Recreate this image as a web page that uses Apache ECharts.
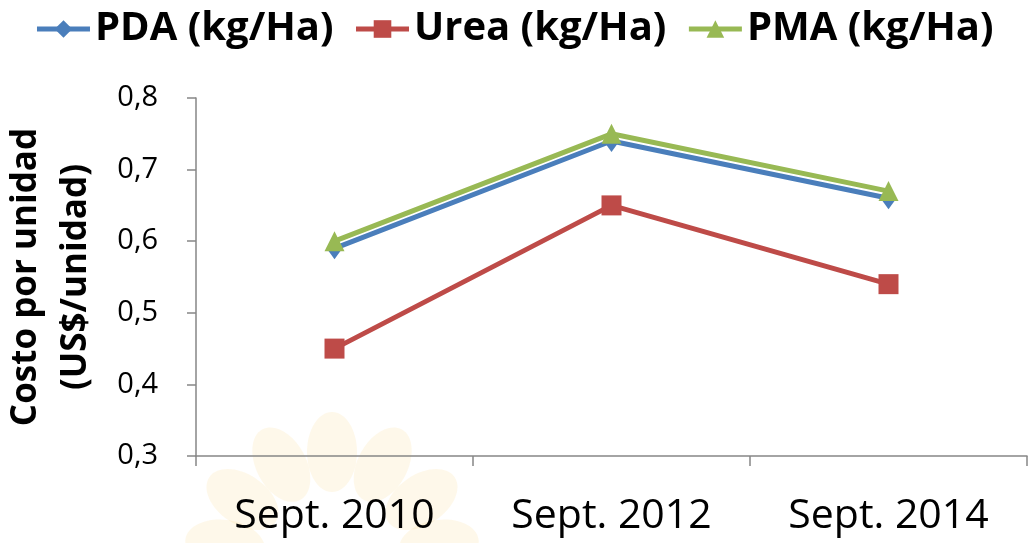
<!DOCTYPE html>
<html>
<head>
<meta charset="utf-8">
<script src="https://cdn.jsdelivr.net/npm/echarts@6/dist/echarts.min.js"></script>
<style>html,body{margin:0;padding:0;background:#fff}#c{width:1028px;height:543px}</style>
</head>
<body>
<div id="c"></div>
<script>
const categories = ['Sept. 2010', 'Sept. 2012', 'Sept. 2014'];
const pda = [0.59, 0.74, 0.66];
const urea = [0.45, 0.65, 0.54];
const pma = [0.60, 0.75, 0.67];
const seriesNames = ['PDA (kg/Ha)', 'Urea (kg/Ha)', 'PMA (kg/Ha)'];
const yTitle = 'Costo por unidad\n(US$/unidad)';

const chart = echarts.init(document.getElementById('c'));
const FONT = '"Open Sans"';
const petals = [];
const petalAngles = [-90, -62, -118, -34, -146, -8, -172];
petalAngles.forEach(a => {
  const r = 108, cx = 332, cy = 560;
  const rad = a * Math.PI / 180;
  petals.push({
    type: 'ellipse',
    x: cx + r * Math.cos(rad), y: cy + r * Math.sin(rad),
    rotation: -(a + 90) * Math.PI / 180,
    shape: { cx: 0, cy: 0, rx: 25, ry: 40 },
    style: { fill: 'rgba(250,215,140,0.18)' },
    z: -10, silent: true
  });
});

chart.setOption({
  animation: false,
  backgroundColor: '#fff',
  graphic: petals,
  legend: {
    top: 4, left: 'center',
    itemWidth: 53, itemHeight: 22, itemGap: 20,
    lineStyle: { width: 5 },
    textStyle: { fontFamily: FONT, fontWeight: 'bold', fontSize: 40, color: '#000' },
    data: seriesNames
  },
  grid: { left: 196, right: 1, top: 98, bottom: 87, outerBoundsMode: 'none' },
  xAxis: {
    type: 'category', data: categories, boundaryGap: true,
    axisLine: { lineStyle: { color: '#868686', width: 1.5 } },
    axisTick: { show: true, length: 10, lineStyle: { color: '#868686', width: 1.5 } },
    axisLabel: { fontFamily: FONT, fontSize: 41, color: '#000', margin: 40 }
  },
  yAxis: {
    type: 'value', min: 0.3, max: 0.8, interval: 0.1,
    name: yTitle, nameLocation: 'middle', nameRotate: 90, nameGap: 95,
    nameTextStyle: { fontFamily: FONT, fontWeight: 'bold', fontSize: 35, color: '#000', lineHeight: 50 },
    splitLine: { show: false },
    axisLine: { show: true, lineStyle: { color: '#868686', width: 1.5 } },
    axisTick: { show: true, length: 9, lineStyle: { color: '#868686', width: 1.5 } },
    axisLabel: { fontFamily: FONT, fontSize: 29, color: '#000', margin: 38,
      formatter: v => v.toFixed(1).replace('.', ',') }
  },
  series: [
    { name: seriesNames[0], type: 'line', data: pda, symbol: 'diamond', symbolSize: [16, 22],
      lineStyle: { color: '#4A7EBB', width: 5 }, itemStyle: { color: '#4A7EBB' } },
    { name: seriesNames[1], type: 'line', data: urea, symbol: 'rect', symbolSize: 20,
      lineStyle: { color: '#BE4B48', width: 5 }, itemStyle: { color: '#BE4B48' } },
    { name: seriesNames[2], type: 'line', data: pma, symbol: 'triangle', symbolSize: [20, 20],
      lineStyle: { color: '#98B954', width: 5 }, itemStyle: { color: '#98B954' } }
  ]
});
</script>
</body>
</html>
